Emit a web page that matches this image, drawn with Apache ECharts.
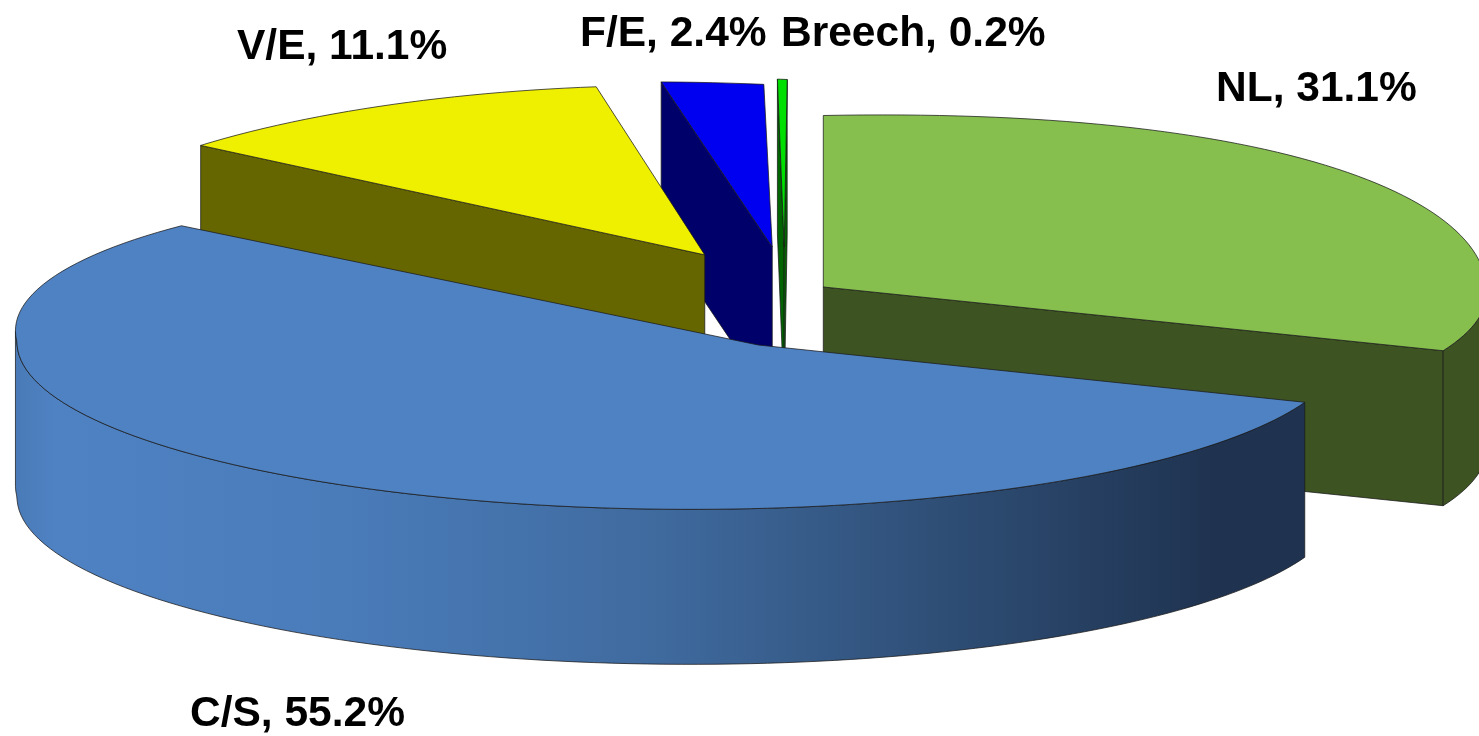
<!DOCTYPE html>
<html lang="en">

<head>
    <meta charset="UTF-8">
    <title>Presentation pie</title>
    <script src="https://cdn.jsdelivr.net/npm/echarts@6/dist/echarts.min.js"></script>
    <style>
        html, body { margin: 0; padding: 0; background: #fff; overflow: hidden; }
    </style>
</head>

<body>
    <div id="main" style="width: 1479px;height:736px;"></div>
    <script>
        // chart data, clockwise from 12 o'clock
        var categories = ['NL', 'C/S', 'V/E', 'F/E', 'Breech'];
        var values = [31.1, 55.2, 11.1, 2.4, 0.2];

        // painted from the back to the front
        var drawOrder = [4, 3, 2, 0, 1];

        var topColors = ['#86BF4E', '#4F82C3', '#EFEF00', '#0000F0', '#00E000'];
        var sideColors = ['#3D5322', '#1F3350', '#666600', '#00006A', '#006400'];

        // where the pie ellipse sits on the page and how it is tilted
        var view = { cx: 680, cy: 345, a: 663, b: 168, skew: 0.118, depth: 155 };

        // pull-out of each slice on the pie plane, and a 2x2 fit of the slice on the page
        var explode = [[0.1007, -0.352], [0, 0], [-0.081, -0.535], [0.0215, -0.589], [0.0399, -0.589]];
        var fit = [
            [1.16, 0, 0, 1.04],
            [1, 0.27, 0.004, 0.98],
            [0.894, 0.057, -0.0377, 1.006],
            [1.03, 0, 0, 0.975],
            [1.2, -0.018, 0, 1.01]
        ];
        // extra swell of the far rim, the picture's rim is squarer than an ellipse there
        var swell = [[0.0002, 0.0004], [0, 0], [0, 0], [0, 0], [0, 0]];

        // left edge and vertical centre of the text labels
        var labelPos = [[1216, 89], [190, 714], [237, 47], [580, 34], [781, 34]];

        function toPage(u, v) {
            var w = 1 + view.skew * u;
            return [
                view.cx + view.a * (u + view.skew) / w,
                view.cy + view.b * v * Math.sqrt(1 - view.skew * view.skew) / w
            ];
        }

        // angle in degrees clockwise from 12 o'clock -> page position on the rim of slice i
        function rimPoint(i, deg) {
            var r = deg * Math.PI / 180;
            var o = explode[i], m = fit[i], sw = swell[i];
            var p0 = toPage(o[0], o[1]);
            var p = toPage(o[0] + Math.sin(r), o[1] - Math.cos(r));
            var dx = p[0] - p0[0], dy = p[1] - p0[1];
            var far = Math.min(dy, 0);
            return [
                p0[0] + m[0] * dx + m[1] * far - sw[0] * dx * far,
                p0[1] + m[2] * dx + m[3] * dy + sw[1] * dx * far
            ];
        }

        function down(p) {
            return [p[0], p[1] + view.depth];
        }

        function sliceAngles(i) {
            var total = values.reduce(function (s, v) { return s + v; }, 0);
            var before = 0;
            for (var k = 0; k < i; k++) before += values[k];
            return [before / total * 360, (before + values[i]) / total * 360];
        }

        // a cut face shows only when the slice's top lies above that cut on the page
        function cutFaces(apex, end, inner) {
            var ex = end[0] - apex[0];
            if (Math.abs(ex) < 0.5) return false;
            var lineY = apex[1] + (end[1] - apex[1]) / ex * (inner[0] - apex[0]);
            return inner[1] < lineY;
        }

        var edge = 'rgba(25,25,25,0.75)';
        var csWall = new echarts.graphic.LinearGradient(17, 0, 1305, 0, [
            { offset: 0, color: '#4A7BB8' },
            { offset: 0.03, color: '#4F82C3' },
            { offset: 0.25, color: '#4A7CBA' },
            { offset: 0.5, color: '#3F6A9E' },
            { offset: 0.75, color: '#2C4A70' },
            { offset: 0.93, color: '#1F3350' },
            { offset: 1, color: '#1F3350' }
        ], true);

        function renderSlice(params, api) {
            var i = api.value(0);
            var ang = sliceAngles(i);
            var steps = Math.max(3, Math.ceil((ang[1] - ang[0]) / 1.5));
            var rim = [];
            for (var s = 0; s <= steps; s++) {
                rim.push(rimPoint(i, ang[0] + (ang[1] - ang[0]) * s / steps));
            }
            var apex = toPage(explode[i][0], explode[i][1]);
            var first = rim[0], last = rim[rim.length - 1];
            var inner = rim[Math.floor(rim.length / 2)];
            var side = sideColors[i];

            function face(points, fill) {
                return {
                    type: 'polygon',
                    shape: { points: points },
                    style: { fill: fill, stroke: edge, lineWidth: 1 }
                };
            }

            var children = [];
            if (cutFaces(apex, first, inner)) children.push(face([apex, first, down(first), down(apex)], side));
            if (cutFaces(apex, last, inner)) children.push(face([apex, last, down(last), down(apex)], side));

            // outer wall: only the run of the rim that moves leftwards faces the viewer
            var wall = rim.filter(function (p, k) {
                return (k > 0 && rim[k - 1][0] > p[0]) || (k < rim.length - 1 && p[0] > rim[k + 1][0]);
            });
            if (wall.length > 1 && i < 2) {
                children.push(face(wall.concat(wall.map(down).reverse()), i === 1 ? csWall : side));
            }

            children.push(face([apex].concat(rim), topColors[i]));
            children.push({
                type: 'text',
                style: {
                    x: labelPos[i][0],
                    y: labelPos[i][1],
                    text: categories[i] + ', ' + values[i].toFixed(1) + '%',
                    fill: '#000',
                    font: 'bold 42.5px "Liberation Sans", Arial, sans-serif',
                    verticalAlign: 'middle',
                    align: 'left'
                }
            });
            return { type: 'group', children: children };
        }

        var myChart = echarts.init(document.getElementById('main'));
        myChart.setOption({
            backgroundColor: '#fff',
            animation: false,
            series: [{
                type: 'custom',
                coordinateSystem: 'none',
                renderItem: renderSlice,
                data: drawOrder.map(function (i) { return [i, values[i]]; })
            }]
        });
    </script>
</body>

</html>
